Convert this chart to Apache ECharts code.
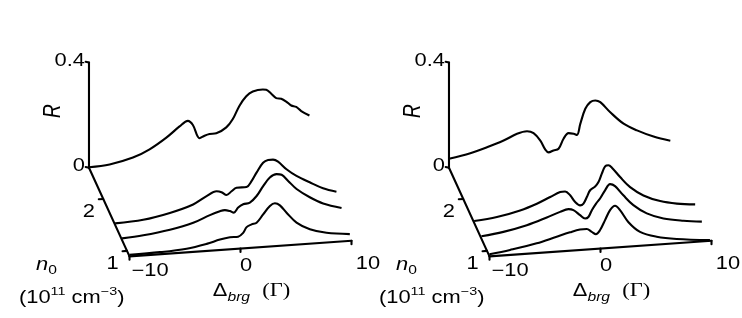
<!DOCTYPE html>
<html><head><meta charset="utf-8">
<script src="https://cdn.jsdelivr.net/npm/echarts@6/dist/echarts.min.js"></script>
<style>html,body{margin:0;padding:0;background:#fff}#c{width:742px;height:318px}</style>
</head><body><div id="c"></div>
<script>
// ---------------- data ----------------
const N_FRONT = 0.894, N_BACK = 2.60;          // depth-axis range (10^11 cm^-3)
const DELTA_MIN = -10, DELTA_MAX = 10;
const R_MAX = 0.4;
const deltaTicks = [-10, 0, 10];
const deltaTickLabels = ['\u221210', '0', '10'];
const rTicks = [0, 0.4];
const rTickLabels = ['0', '0.4'];
const nTicks = [1, 2];
const nTickLabels = ['1', '2'];

const leftDepths  = [2.60, 1.50, 1.206, 0.894];
const rightDepths = [2.60, 1.54, 1.235, 0.894];

// [Δ, R] pairs
const leftBack = [[-10,0.002],[-8.14,0.007],[-6.04,0.027],[-4.54,0.054],[-3.03,0.094],[-1.84,0.133],[-1.09,0.152],[-0.64,0.135],[-0.04,0.083],[0.41,0.091],[0.86,0.096],[1.47,0.097],[2.37,0.117],[2.96,0.147],[3.56,0.196],[4.17,0.230],[4.76,0.246],[5.66,0.251],[5.97,0.249],[6.42,0.233],[6.87,0.215],[7.32,0.211],[7.77,0.199],[8.22,0.183],[8.67,0.176],[9.12,0.159],[9.86,0.140]];
const leftMid1 = [[-10,0.006],[-7.47,0.012],[-5.07,0.031],[-2.97,0.057],[-1.76,0.085],[-0.86,0.101],[-0.41,0.096],[0.04,0.084],[0.49,0.097],[0.94,0.109],[1.84,0.109],[2.29,0.130],[2.74,0.161],[3.33,0.197],[3.78,0.206],[4.23,0.206],[4.68,0.197],[5.44,0.166],[6.34,0.138],[7.53,0.110],[8.73,0.084],[9.94,0.067]];
const leftMid2 = [[-10,0.007],[-8.09,0.013],[-5.69,0.027],[-3.59,0.047],[-2.09,0.072],[-1.19,0.084],[-0.74,0.087],[-0.29,0.082],[0.07,0.075],[0.46,0.093],[0.91,0.104],[1.51,0.109],[2.12,0.132],[2.71,0.168],[3.31,0.199],[3.92,0.210],[4.37,0.206],[4.96,0.181],[5.72,0.148],[6.91,0.113],[8.11,0.086],[9.77,0.064]];
const leftFront = [[-10,0.006],[-7.25,0.008],[-4.85,0.014],[-3.05,0.027],[-1.85,0.040],[-0.95,0.046],[-0.21,0.046],[0.24,0.059],[0.55,0.080],[1.0,0.089],[1.45,0.094],[2.04,0.124],[2.65,0.154],[3.1,0.163],[3.55,0.154],[4.15,0.124],[5.05,0.084],[6.25,0.055],[7.75,0.037],[9.85,0.026]];

const rightBack = [[-10,0.034],[-8.08,0.050],[-6.58,0.068],[-5.08,0.089],[-3.87,0.111],[-2.97,0.118],[-2.38,0.109],[-1.77,0.079],[-1.32,0.043],[-1.03,0.032],[-0.58,0.038],[-0.13,0.043],[0.32,0.080],[0.77,0.100],[1.23,0.096],[1.53,0.091],[1.83,0.132],[2.28,0.188],[2.73,0.212],[3.18,0.217],[3.63,0.209],[4.53,0.168],[5.73,0.121],[6.94,0.092],[8.43,0.064],[9.94,0.044]];
const rightMid1 = [[-10,0.007],[-7.95,0.016],[-5.86,0.035],[-4.35,0.056],[-3.15,0.078],[-2.25,0.094],[-1.8,0.095],[-1.35,0.079],[-0.9,0.052],[-0.45,0.038],[-0.15,0.044],[0.15,0.068],[0.45,0.093],[0.9,0.106],[1.2,0.122],[1.5,0.153],[1.8,0.180],[2.1,0.183],[2.41,0.173],[3.15,0.135],[4.05,0.094],[5.25,0.059],[6.76,0.033],[8.26,0.019],[9.91,0.011]];
const rightMid2 = [[-10,0.009],[-8.02,0.020],[-5.91,0.039],[-4.11,0.063],[-2.91,0.081],[-2.16,0.089],[-1.71,0.084],[-1.11,0.063],[-0.66,0.049],[-0.36,0.054],[-0.05,0.079],[0.33,0.103],[0.69,0.121],[1.14,0.151],[1.59,0.173],[2.04,0.164],[2.79,0.127],[3.69,0.087],[4.9,0.052],[6.4,0.028],[8.2,0.014],[9.86,0.006]];
const rightFront = [[-10,0.008],[-8.15,0.019],[-5.75,0.037],[-3.95,0.057],[-2.75,0.070],[-1.85,0.078],[-1.24,0.078],[-0.79,0.066],[-0.41,0.056],[-0.05,0.070],[0.41,0.107],[0.86,0.144],[1.31,0.159],[1.76,0.141],[2.5,0.094],[3.56,0.053],[5.06,0.030],[6.86,0.016],[9.86,0.003]];

// ---------------- geometry / style ----------------
const PX_DELTA = 11.1, PX_R = 263;          // pixels per unit
const SHEAR = -3.65, LIFT = 0.3369, TILT = 0.002966; // oblique projection
const X_MIN = -14, X_MAX = 11, Y_MIN = -0.05, Y_MAX = 0.75;
const LW = 2.1;
const FONT = 'Liberation Sans';
const STRETCH = 1.25;

function depthFrac(n) { return (n - N_FRONT) / (N_BACK - N_FRONT); }
function proj(delta, n, r) {
  const d = depthFrac(n);
  return [delta + SHEAR * d, r + TILT * (delta - DELTA_MIN) + LIFT * d];
}

const panels = [
  { ox: 129.5, oy: 256.4, depths: leftDepths, curves: [leftBack, leftMid1, leftMid2, leftFront] },
  { ox: 489.5, oy: 256.4, depths: rightDepths, curves: [rightBack, rightMid1, rightMid2, rightFront] }
];

const rich = {
  t: { fontFamily: FONT, fontSize: 17.5, lineHeight: 24, fill: '#000' },
  i: { fontFamily: FONT, fontSize: 17.5, lineHeight: 24, fontStyle: 'italic', fill: '#000' },
  bigi: { fontFamily: FONT, fontSize: 19, lineHeight: 24, fontStyle: 'italic', fill: '#000' },
  sup: { fontFamily: FONT, fontSize: 11.5, lineHeight: 12, verticalAlign: 'top', fill: '#000' },
  sub: { fontFamily: FONT, fontSize: 12.5, lineHeight: 12, verticalAlign: 'bottom', fill: '#000' },
  isub: { fontFamily: FONT, fontSize: 12.5, lineHeight: 12, verticalAlign: 'bottom', fontStyle: 'italic', fill: '#000' },
  g: { fontFamily: 'Liberation Serif', fontSize: 18, lineHeight: 24, fill: '#000' }
};

const deltaLabelOff = [[20.5, 14.5], [5.5, 17.5], [16.5, 23]];

const grids = [], xAxes = [], yAxes = [], series = [];
panels.forEach((p, i) => {
  grids.push({ left: p.ox + (X_MIN - DELTA_MIN) * PX_DELTA, top: p.oy - Y_MAX * PX_R,
               width: (X_MAX - X_MIN) * PX_DELTA, height: (Y_MAX - Y_MIN) * PX_R });
  xAxes.push({ gridIndex: i, type: 'value', min: X_MIN, max: X_MAX, show: false });
  yAxes.push({ gridIndex: i, type: 'value', min: Y_MIN, max: Y_MAX, show: false });

  // curves
  p.curves.forEach((c, k) => {
    series.push({
      type: 'line', xAxisIndex: i, yAxisIndex: i, symbol: 'none', smooth: 0.35,
      clip: false, silent: true, animation: false,
      lineStyle: { color: '#000', width: LW },
      data: c.map(([dl, r]) => proj(dl, p.depths[k], r))
    });
  });

  // axis segments
  const seg = [];
  const push = (a, b) => seg.push([a[0], a[1], b[0], b[1]]);
  push(proj(DELTA_MIN, N_FRONT, 0), proj(DELTA_MIN, N_BACK, 0));
  push(proj(DELTA_MIN, N_BACK, 0), proj(DELTA_MIN, N_BACK, R_MAX));
  push(proj(DELTA_MIN, N_FRONT, 0), proj(DELTA_MAX, N_FRONT, 0));
  rTicks.forEach(r => push(proj(DELTA_MIN, N_BACK, r), proj(DELTA_MIN - 0.3, N_BACK, r + 0.004)));
  nTicks.forEach(n => push(proj(DELTA_MIN, n, 0), proj(DELTA_MIN - 0.4, n, 0)));
  deltaTicks.forEach(t => push(proj(t, N_FRONT, 0), proj(t, N_FRONT, -0.013)));
  series.push({
    type: 'custom', xAxisIndex: i, yAxisIndex: i, silent: true, animation: false, clip: false,
    encode: { x: [0, 2], y: [1, 3] }, data: seg,
    renderItem: (params, api) => {
      const a = api.coord([api.value(0), api.value(1)]);
      const b = api.coord([api.value(2), api.value(3)]);
      return { type: 'line', shape: { x1: a[0], y1: a[1], x2: b[0], y2: b[1] },
               style: { stroke: '#000', lineWidth: LW, lineCap: 'round' } };
    }
  });

  // labels
  const labels = [];
  rTicks.forEach((r, j) => labels.push({ at: proj(DELTA_MIN, N_BACK, r), text: '{t|' + rTickLabels[j] + '}', dx: -4, dy: -1.5, align: 'right' }));
  nTicks.forEach((n, j) => labels.push({ at: proj(DELTA_MIN, n, 0), text: '{t|' + nTickLabels[j] + '}', dx: -14.5, dy: 13.5, align: 'center' }));
  deltaTicks.forEach((t, j) => labels.push({ at: proj(t, N_FRONT, 0), text: '{t|' + deltaTickLabels[j] + '}', dx: deltaLabelOff[j][0], dy: deltaLabelOff[j][1], align: 'center' }));
  labels.push({ at: proj(DELTA_MIN, N_BACK, R_MAX / 2), text: '{bigi|R}', dx: -35.5, dy: -4, align: 'center', rot: Math.PI / 2 });
  labels.push({ at: proj(DELTA_MIN, N_FRONT, 0), text: '{i|n}{sub|0}', dx: -83, dy: 9, align: 'center' });
  labels.push({ at: proj(DELTA_MIN, N_FRONT, 0), text: '{t|(10}{sup|11}{t| cm}{sup|\u22123}{t|)}', dx: -57.8, dy: 41.6, align: 'center' });
  labels.push({ at: proj(0, N_FRONT, 0), text: '{t|\u0394}{isub|brg}{t|  }{g|(\u0393)}', dx: 11, dy: 43, align: 'center' });
  series.push({
    type: 'custom', xAxisIndex: i, yAxisIndex: i, silent: true, animation: false, clip: false,
    data: labels.map(l => l.at),
    renderItem: (params, api) => {
      const l = labels[params.dataIndex];
      const pt = api.coord([api.value(0), api.value(1)]);
      const el = { type: 'text', x: pt[0] + l.dx, y: pt[1] + l.dy,
        style: { text: l.text, rich: rich, align: l.align, verticalAlign: 'middle', fill: '#000' } };
      if (l.rot) { el.rotation = l.rot; el.scaleY = STRETCH; } else { el.scaleX = STRETCH; }
      return el;
    }
  });
});

const chart = echarts.init(document.getElementById('c'), null, { renderer: 'canvas' });
chart.setOption({ backgroundColor: '#fff', animation: false, grid: grids, xAxis: xAxes, yAxis: yAxes, series: series });
</script></body></html>
